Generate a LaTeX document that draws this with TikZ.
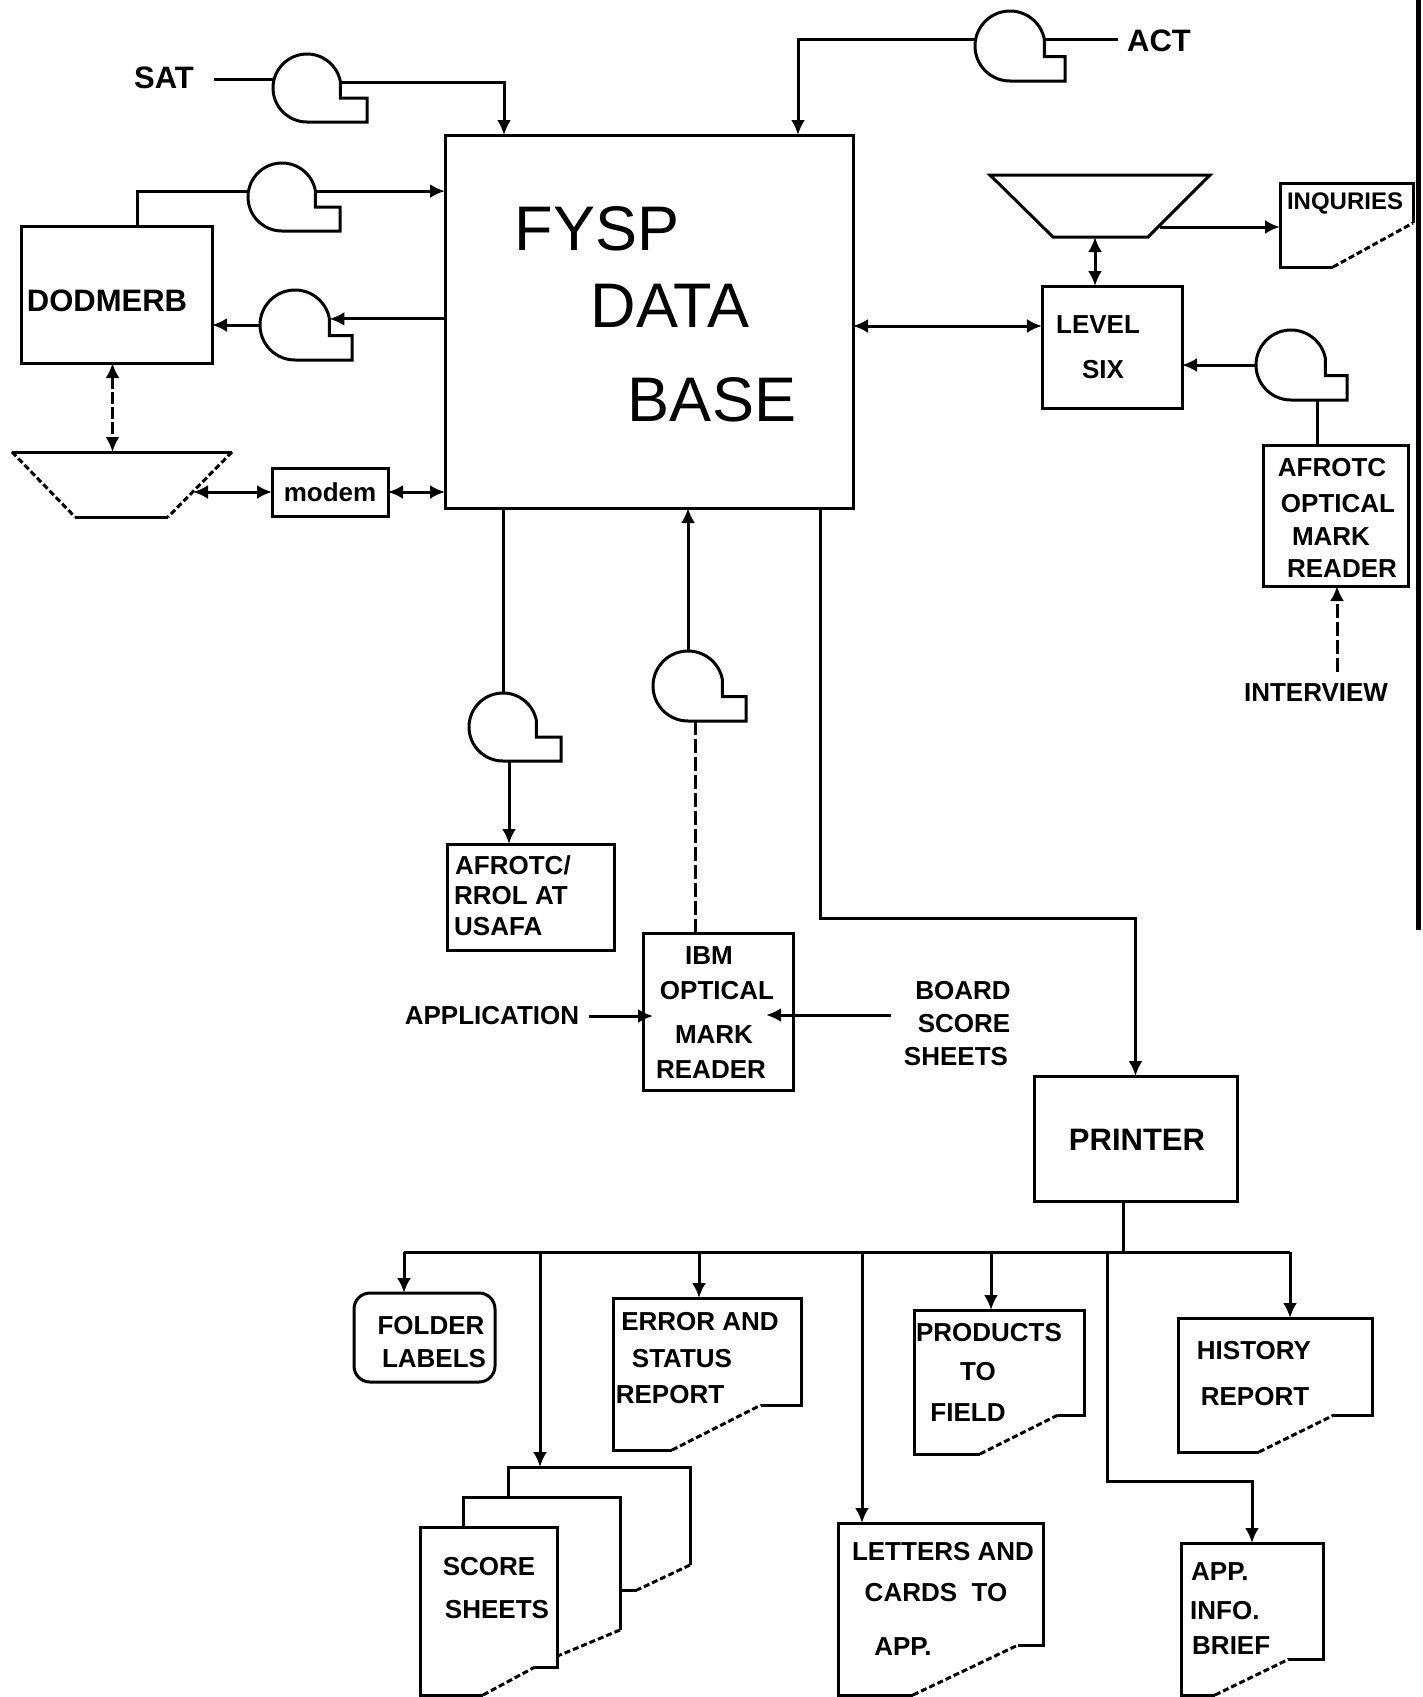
\documentclass[tikz,border=0pt]{standalone}
\usepackage{fontspec}
\setmainfont{Liberation Sans}
\usetikzlibrary{arrows.meta,calc}
\newcommand{\tapesym}[5]{%
  \node[tapecore, minimum size={2*#4}] (#1) at (#2,#3) {};
  \draw[ln] ({#2+#4*cos(10)},{#3-#4*sin(10)}) arc[start angle=-10, end angle=-270, radius=#4]
    -- ({#2+#5},{#3+#4}) -- ({#2+#5},{#3+0.3*#4}) -- ({#2+#4*cos(10)},{#3+0.3*#4}) -- cycle;}
\newcommand{\docsym}[8]{%
  \node[ghost, minimum width={#4-#2}, minimum height={#5-#3}] (#1) at ({(#2+#4)/2},{(#3+#5)/2}) {};
  \draw[ln] (#7,#6) -- (#4,#6) -- (#4,#3) -- (#2,#3) -- (#2,#5) -- (#8,#5);
  \draw[slant] (#8,#5) -- (#7,#6);}
\begin{document}
\begin{tikzpicture}[x=1pt,y=-1pt,
 ln/.style={line width=3pt},
 box/.style={draw, line width=3pt, rectangle, inner sep=0pt, outer sep=0pt},
 ghost/.style={draw=none, rectangle, inner sep=0pt, outer sep=0pt},
 tapecore/.style={draw=none, circle, inner sep=0pt, outer sep=0pt},
 lbl/.style={font=\bfseries\fontsize{26}{28}\selectfont, inner sep=0pt},
 lblbig/.style={font=\bfseries\fontsize{31}{33}\selectfont, inner sep=0pt},
 big/.style={font=\fontsize{63}{66}\selectfont, inner sep=0pt},
 >={Latex[length=15pt,width=14pt]},
 arr/.style={ln, ->},
 darr/.style={ln, <->},
 slant/.style={ln, dash pattern=on 6pt off 3pt},
 dashln/.style={ln, dash pattern=on 14pt off 4pt},
]
\useasboundingbox (0,0) rectangle (1423,1697);

% ---------- main data base ----------
\node[box, minimum width=408, minimum height=373] (fysp) at (649,321.5) {};
\node[big] (fy1) at (597,229) {FYSP};
\node[big] (fy2) at (670,306) {DATA};
\node[big] (fy3) at (712,400) {BASE};

% ---------- SAT / ACT ----------
\node[lblbig] (sat) at (164,78) {SAT};
\tapesym{t1}{307}{88}{34}{60}
\draw[ln] ([xshift=20pt]sat.east |- t1.165) -- (t1.165);
\draw[arr] (t1.10) -| ([xshift=59pt]fysp.north west);

\node[lblbig] (act) at (1159,41) {ACT};
\tapesym{tact}{1010}{46}{35}{55}
\draw[ln] ([xshift=-9pt]act.west |- tact.10) -- (tact.10);
\draw[arr] (tact.170) -| ([xshift=-55pt]fysp.north east);

% ---------- DODMERB ----------
\node[box, minimum width=191, minimum height=137] (dod) at (116.5,294.5) {};
\node[lblbig] (dodt) at (107,301) {DODMERB};
\tapesym{t2}{282}{197}{34}{58}
\draw[ln] ([xshift=116pt]dod.north west) |- (t2.170);
\draw[arr] (t2.10) -- (t2.10 -| fysp.west);
\tapesym{t3}{295}{325}{35}{57}
\draw[arr] (t3.10 -| fysp.west) -- (t3.10);
\draw[arr] (t3.180) -- (t3.180 -| dod.east);

% left disk
\node[ghost, minimum width=220, minimum height=65] (ltrap) at (122,484.5) {};
\draw[ln] (ltrap.north west) -- (ltrap.north east);
\draw[ln] ([xshift=63pt]ltrap.south west) -- ([xshift=-64pt]ltrap.south east);
\draw[slant] (ltrap.north west) -- ([xshift=63pt]ltrap.south west);
\draw[slant] (ltrap.north east) -- ([xshift=-64pt]ltrap.south east);
\draw[darr, dash pattern=on 12pt off 3pt] ([xshift=-4pt]dod.south) -- ([xshift=-4pt]dod.south |- ltrap.north);

% modem
\node[box, minimum width=116, minimum height=48] (modem) at (330,492) {};
\node[lbl] (modemt) at (330,492) {modem};
\coordinate (ltrapr) at (193,492);
\draw[darr] (ltrapr) -- (modem.west);
\draw[darr] (modem.east) -- (modem.east -| fysp.west);

% ---------- right side ----------
\node[ghost, minimum width=220, minimum height=62] (rtrap) at (1100,206) {};
\draw[ln] (rtrap.north west) -- (rtrap.north east) -- ([xshift=-62pt]rtrap.south east)
  -- ([xshift=63pt]rtrap.south west) -- cycle;
\docsym{inq}{1280}{183}{1413}{267}{223}{1413}{1333}
\node[lbl, font=\bfseries\fontsize{24}{26}\selectfont] (inqt) at (1345,203) {INQURIES};
\coordinate (rtrapr) at (1160,227);
\draw[arr] (rtrapr) -- (rtrapr -| inq.west);

\node[box, minimum width=140, minimum height=122] (lvl) at (1112,347) {};
\node[lbl] (lvl1) at (1098,325) {LEVEL};
\node[lbl] (lvl2) at (1103,370) {SIX};
\draw[darr] ([yshift=21pt]lvl.west -| fysp.east) -- ([yshift=21pt]lvl.west);
\draw[darr] ([xshift=-17pt]lvl.north) -- ([xshift=-17pt]lvl.north |- rtrap.south);

\tapesym{t5}{1291}{365}{35}{56}
\draw[arr] (t5.180) -- (t5.180 -| lvl.east);
\node[box, minimum width=145, minimum height=141] (omr) at (1335.5,515.5) {};
\node[lbl] (omr1) at (1332,468) {AFROTC};
\node[lbl] (omr2) at (1338,504) {OPTICAL};
\node[lbl] (omr3) at (1331,537) {MARK};
\node[lbl] (omr4) at (1342,569) {READER};
\draw[ln] ([xshift=26pt]t5.south) -- ([xshift=26pt]t5.south |- omr.north);
\node[lbl] (intv) at (1316,693) {INTERVIEW};
\draw[arr, dash pattern=on 14pt off 4pt] ([xshift=21pt,yshift=12pt]intv.north) -- ([xshift=21pt]intv.north |- omr.south);

% ---------- below data base ----------
\tapesym{t4}{503}{727}{34}{58}
\draw[ln] (t4.north |- fysp.south) -- (t4.north);
\node[box, minimum width=167, minimum height=106] (rrol) at (530.5,897) {};
\node[lbl, anchor=west] (rrol1) at (455,865) {AFROTC/};
\node[lbl, anchor=west] (rrol2) at (454,896) {RROL AT};
\node[lbl, anchor=west] (rrol3) at (454,927) {USAFA};
\draw[arr] ([xshift=6pt]t4.south) -- ([xshift=6pt]t4.south |- rrol.north);

\tapesym{t6}{688}{686}{35}{58}
\draw[arr] (t6.north) -- (t6.north |- fysp.south);
\node[box, minimum width=150, minimum height=157] (ibm) at (718,1011.5) {};
\node[lbl] (ibm1) at (709,956) {IBM};
\node[lbl] (ibm2) at (717,991) {OPTICAL};
\node[lbl] (ibm3) at (714,1035) {MARK};
\node[lbl] (ibm4) at (711,1070) {READER};
\draw[dashln] ([xshift=7pt]t6.south) -- ([xshift=7pt]t6.south |- ibm.north);

\node[lbl] (appl) at (492,1016) {APPLICATION};
\draw[arr] ([xshift=10pt]appl.east) -- ([xshift=10pt]appl.east -| ibm.west);
\node[lbl] (bss1) at (963,991) {BOARD};
\node[lbl] (bss2) at (964,1024) {SCORE};
\node[lbl] (bss3) at (956,1057) {SHEETS};
\draw[arr] ([xshift=-27pt,yshift=9pt]bss2.west) -- ([xshift=-27pt,yshift=9pt]bss2.west -| ibm.east);

% ---------- printer ----------
\node[box, minimum width=203, minimum height=125] (prn) at (1135.5,1138.5) {};
\node[lblbig] (prnt) at (1137,1140) {PRINTER};
\draw[arr] ([xshift=-33pt]fysp.south east) -- ++(0,410) -| (prn.north);

\coordinate (busL) at (404,1252);
\coordinate (busR) at (1290,1252);
\coordinate (tap7) at (1107,1252);
\draw[ln] ([xshift=-12pt]prn.south) -- ([xshift=-12pt]prn.south |- busL);
\draw[ln] (busL) -- (busR);

% outputs
\node[box, rounded corners=16pt, minimum width=141, minimum height=89] (fold) at (424.5,1337.5) {};
\node[lbl] (fold1) at (431,1326) {FOLDER};
\node[lbl] (fold2) at (434,1359) {LABELS};
\draw[arr] (busL) -- (busL |- fold.north);

\docsym{err}{613}{1298}{801}{1450}{1405}{761}{672}
\node[lbl] (err1) at (700,1322) {ERROR AND};
\node[lbl] (err2) at (682,1359) {STATUS};
\node[lbl] (err3) at (670,1395) {REPORT};
\draw[arr] ([xshift=-8pt]err.north |- busL) -- ([xshift=-8pt]err.north);

\docsym{prod}{914}{1310}{1084}{1454}{1415}{1058}{980}
\node[lbl] (prod1) at (989,1333) {PRODUCTS};
\node[lbl] (prod2) at (978,1372) {TO};
\node[lbl] (prod3) at (968,1413) {FIELD};
\draw[arr] ([xshift=-8pt]prod.north |- busL) -- ([xshift=-8pt]prod.north);

\docsym{hist}{1178}{1318}{1372}{1452}{1415}{1334}{1259}
\node[lbl] (hist1) at (1254,1351) {HISTORY};
\node[lbl] (hist2) at (1255,1397) {REPORT};
\draw[arr] (busR) -- (busR |- hist.north);

\docsym{appinfo}{1181}{1543}{1323}{1695}{1659}{1289}{1215}
\node[lbl, anchor=west] (ai1) at (1191,1572) {APP.};
\node[lbl, anchor=west] (ai2) at (1190,1611) {INFO.};
\node[lbl, anchor=west] (ai3) at (1192,1646) {BRIEF};
\draw[arr] (tap7) -- ++(0,229) -| (appinfo.north);

\docsym{letters}{838}{1523}{1043}{1695}{1645}{1018}{913}
\node[lbl] (let1) at (943,1552) {LETTERS AND};
\node[lbl] (let2) at (936,1593) {CARDS\ \ TO};
\node[lbl] (let3) at (903,1647) {APP.};
\draw[arr] ([xshift=24pt]letters.north west |- busL) -- ([xshift=24pt]letters.north west);

% score sheets stack
\node[ghost, minimum width=182, minimum height=123] (sback) at (599,1528.5) {};
\draw[ln] (508,1497) -- (508,1467) -- (690,1467) -- (690,1565);
\draw[slant] (690,1565) -- (637,1590);
\draw[ln] (637,1590) -- (620,1590);
\node[ghost, minimum width=157, minimum height=158] (smid) at (541.5,1576) {};
\draw[ln] (463,1527) -- (463,1497) -- (620,1497) -- (620,1630);
\draw[slant] (620,1630) -- (560,1655);
\draw[ln] (560,1655) -- (557,1655);
\docsym{sfront}{420}{1527}{557}{1695}{1667}{535}{483}
\node[lbl] (sc1) at (489,1567) {SCORE};
\node[lbl] (sc2) at (497,1610) {SHEETS};
\draw[arr] ([xshift=32pt]sback.north west |- busL) -- ([xshift=32pt]sback.north west);

% scan border mark on the right edge
\draw[line width=5pt] (1418,0) -- (1418,930);
\end{tikzpicture}
\end{document}
